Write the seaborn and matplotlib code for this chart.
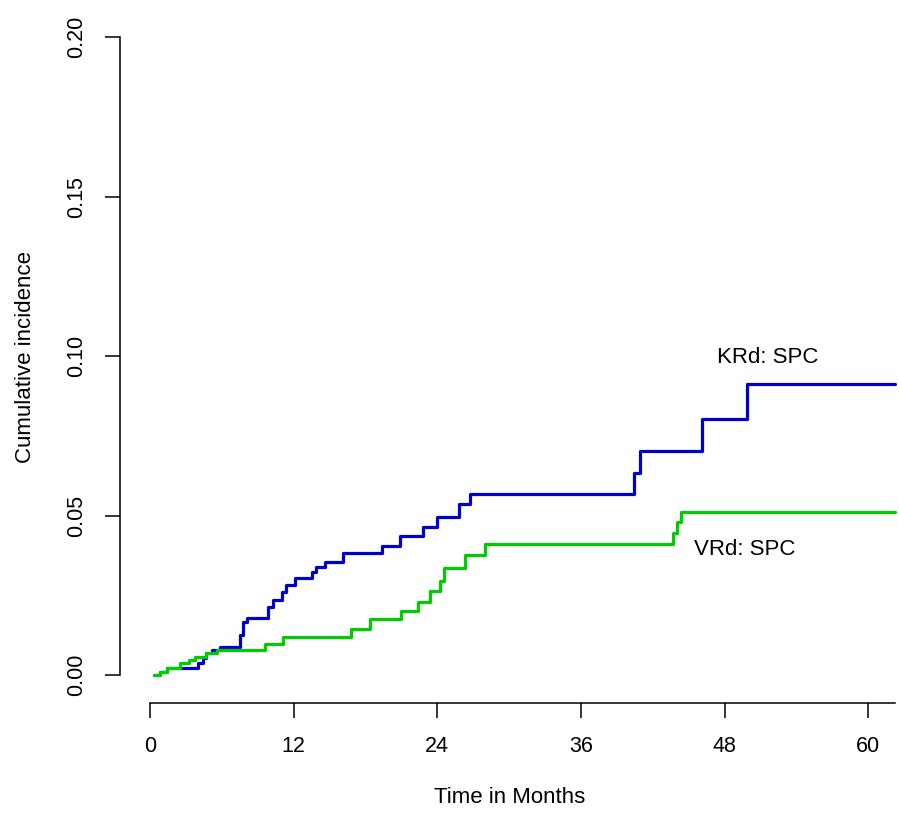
import numpy as np
import pandas as pd
import matplotlib
matplotlib.use('Agg')
import matplotlib.pyplot as plt
import seaborn as sns

# step points (months, cumulative incidence)
krd_t = [0.3, 0.8, 1.4, 4.0, 4.45, 4.7, 5.2, 5.85, 7.5, 7.8, 8.1, 9.9, 10.3, 11.0, 11.4,
         12.1, 13.5, 13.9, 14.6, 16.1, 19.4, 20.9, 22.8, 24.0, 25.8, 26.7, 40.4, 40.9,
         46.1, 49.85, 62.2]
krd_y = [0.0, 0.001, 0.0021, 0.0037, 0.0052, 0.0068, 0.0078, 0.0089, 0.0125, 0.0167, 0.0178,
         0.0214, 0.0235, 0.0261, 0.0282, 0.0303, 0.0324, 0.0340, 0.0355, 0.0381, 0.0404,
         0.0437, 0.0465, 0.0496, 0.0535, 0.0567, 0.0634, 0.0702, 0.0803, 0.0911, 0.0911]

vrd_t = [0.3, 0.8, 1.4, 2.5, 3.3, 3.8, 4.7, 5.6, 9.6, 11.1, 16.8, 18.4, 21.0, 22.4, 23.4,
         24.2, 24.6, 26.3, 28.0, 43.7, 44.0, 44.4, 62.2]
vrd_y = [0.0, 0.001, 0.0021, 0.0037, 0.0047, 0.0057, 0.0068, 0.0078, 0.0097, 0.012, 0.0143,
         0.0175, 0.0201, 0.0230, 0.0264, 0.0295, 0.0334, 0.0376, 0.0411, 0.0445, 0.0480,
         0.0511, 0.0511]

x_ticks = [0, 12, 24, 36, 48, 60]
y_ticks = [0.00, 0.05, 0.10, 0.15, 0.20]

sns.set_style('white')
plt.rcParams['font.family'] = ['Liberation Sans', 'DejaVu Sans']
plt.rcParams['text.color'] = 'black'
plt.rcParams['axes.labelcolor'] = 'black'
plt.rcParams['xtick.color'] = 'black'
plt.rcParams['ytick.color'] = 'black'

fig = plt.figure(figsize=(8.99, 8.25), dpi=100)
ax = fig.add_axes([0.1335, 0.1479, 0.8665, 0.8388])

krd = pd.DataFrame({'t': krd_t, 'y': krd_y})
vrd = pd.DataFrame({'t': vrd_t, 'y': vrd_y})
sns.lineplot(data=krd, x='t', y='y', ax=ax, color='#0000CD', lw=2.3,
             drawstyle='steps-post', estimator=None)
sns.lineplot(data=vrd, x='t', y='y', ax=ax, color='#00CD00', lw=2.3,
             drawstyle='steps-post', estimator=None)

ax.text(51.6, 0.0994, 'KRd: SPC', ha='center', va='center', fontsize=16)
ax.text(49.7, 0.0392, 'VRd: SPC', ha='center', va='center', fontsize=16)

ax.set_xlim(-2.5, 62.57)
ax.set_ylim(-0.00878, 0.2082)
ax.set_xticks(x_ticks)
ax.set_yticks(y_ticks)
ax.set_yticklabels(['%.2f' % v for v in y_ticks], rotation=90, va='center')
ax.tick_params(axis='both', length=10.5, width=1.1, color='black', labelcolor='black',
               labelsize=15.5, pad=13, direction='out', bottom=True, left=True)

for s in ['top', 'right']:
    ax.spines[s].set_visible(False)
ax.spines['left'].set_bounds(0, 0.2)
ax.spines['bottom'].set_bounds(0, 62.2)
for s in ['left', 'bottom']:
    ax.spines[s].set_color('black')
    ax.spines[s].set_linewidth(1.1)

ax.set_xlabel('Time in Months', fontsize=16, labelpad=22)
ax.set_ylabel('Cumulative incidence', fontsize=16, labelpad=22)

fig.savefig('out.png', dpi=100)
